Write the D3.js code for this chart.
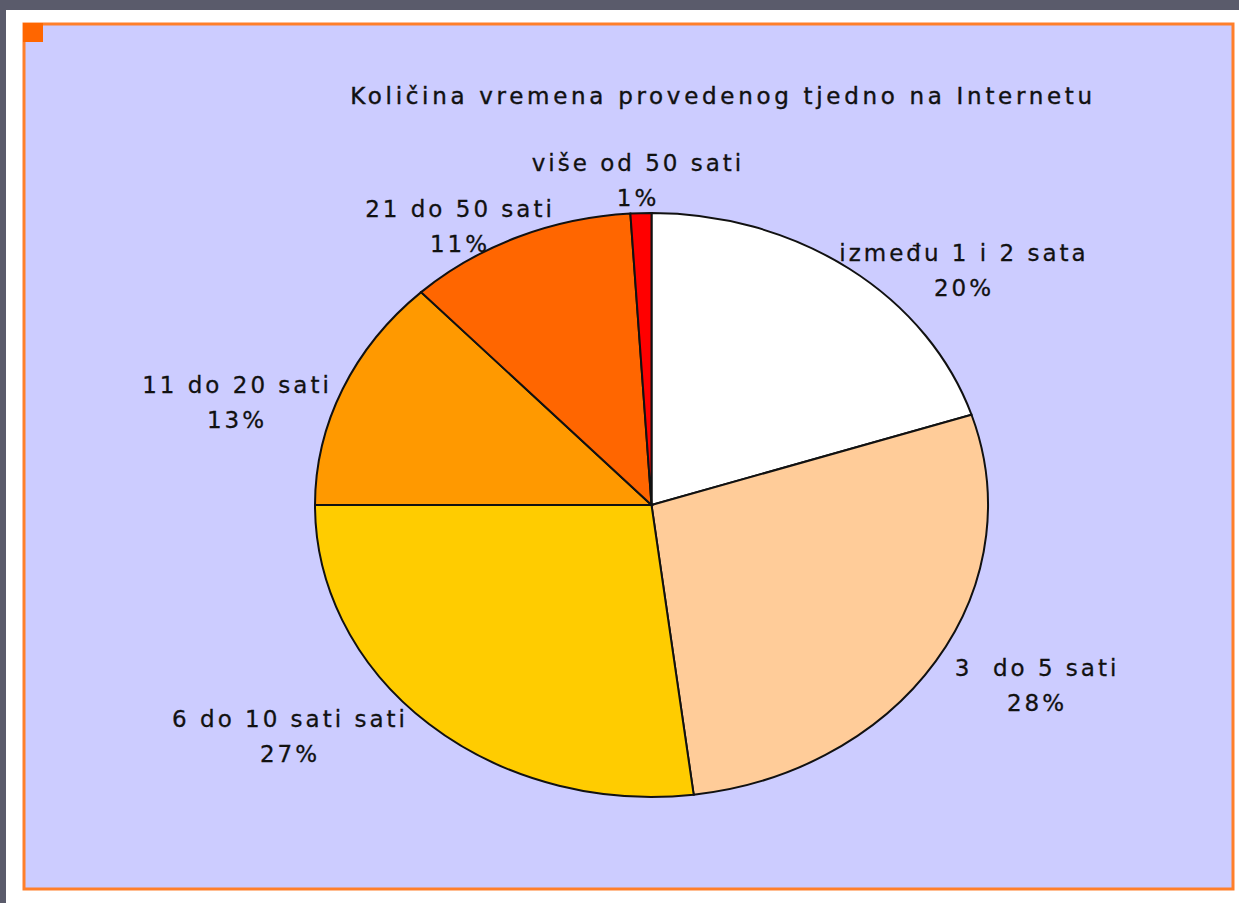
<!DOCTYPE html>
<html>
<head>
<meta charset="utf-8">
<script src="https://cdn.jsdelivr.net/npm/d3@7"></script>
<style>
  body { margin: 0; background: #5a5b6b; }
  svg { display: block; }
</style>
</head>
<body>
<svg class="chart"></svg>
<script>
// page size
var width = 1239;
var height = 903;

// chart data, clockwise from 12 o'clock
var categories = ["između 1 i 2 sata", "3  do 5 sati", "6 do 10 sati sati", "11 do 20 sati", "21 do 50 sati", "više od 50 sati"];
var percents = [20, 28, 27, 13, 11, 1];
var percentLabels = ["20%", "28%", "27%", "13%", "11%", "1%"];
var colors = ["#ffffff", "#ffcc99", "#ffcc00", "#ff9900", "#ff6600", "#ff0000"];
var title = "Količina vremena provedenog tjedno na Internetu";

// pie geometry (ellipse, as in the original)
var cx = 651.5, cy = 505;
var rx = 336.5, ry = 292;

// label anchor points
var labelPos = [[962, 253], [1035, 668], [288, 719], [235, 385], [458, 209], [636, 163]];

var svg = d3.select(".chart")
    .attr("width", width)
    .attr("height", height);

// white frame + plot area
svg.append("rect")
    .attr("x", 6).attr("y", 10)
    .attr("width", width - 6).attr("height", height - 10)
    .attr("fill", "#ffffff");

svg.append("rect")
    .attr("x", 24).attr("y", 24)
    .attr("width", 1209).attr("height", 865)
    .attr("fill", "#ccccff")
    .attr("stroke", "#ff7f2a")
    .attr("stroke-width", 3);

svg.append("rect")
    .attr("x", 23).attr("y", 23)
    .attr("width", 20).attr("height", 19)
    .attr("fill", "#ff6600");

// title
svg.append("text")
    .attr("x", 723)
    .attr("y", 104)
    .attr("text-anchor", "middle")
    .style("font-family", "'DejaVu Sans', Verdana, sans-serif")
    .style("font-size", "23px")
    .style("letter-spacing", "3.7px")
    .style("stroke", "#111")
    .style("stroke-width", 0.4)
    .style("fill", "#111")
    .text(title);

// pie
var pie = d3.pie().sort(null).value(function(d) { return d; });
var arc = d3.arc().innerRadius(0).outerRadius(ry);

var g = svg.append("g")
    .attr("transform", "translate(" + cx + "," + cy + ") scale(" + (rx / ry) + ",1)");

g.selectAll("path")
    .data(pie(percents))
    .enter().append("path")
    .attr("d", arc)
    .attr("fill", function(d, i) { return colors[i]; })
    .attr("stroke", "#111")
    .attr("stroke-width", 2)
    .attr("vector-effect", "non-scaling-stroke");

// labels
var labels = svg.selectAll(".label")
    .data(categories)
    .enter().append("text")
    .attr("class", "label")
    .attr("text-anchor", "middle")
    .style("font-family", "'DejaVu Sans', Verdana, sans-serif")
    .style("font-size", "23px")
    .style("letter-spacing", "3px")
    .style("stroke", "#111")
    .style("stroke-width", 0.3)
    .style("fill", "#111")
    .style("white-space", "pre");

labels.append("tspan")
    .attr("x", function(d, i) { return labelPos[i][0] + 2; })
    .attr("y", function(d, i) { return labelPos[i][1] + 8; })
    .text(function(d) { return d; });

labels.append("tspan")
    .attr("x", function(d, i) { return labelPos[i][0] + 2; })
    .attr("y", function(d, i) { return labelPos[i][1] + 43; })
    .text(function(d, i) { return percentLabels[i]; });
</script>
</body>
</html>
